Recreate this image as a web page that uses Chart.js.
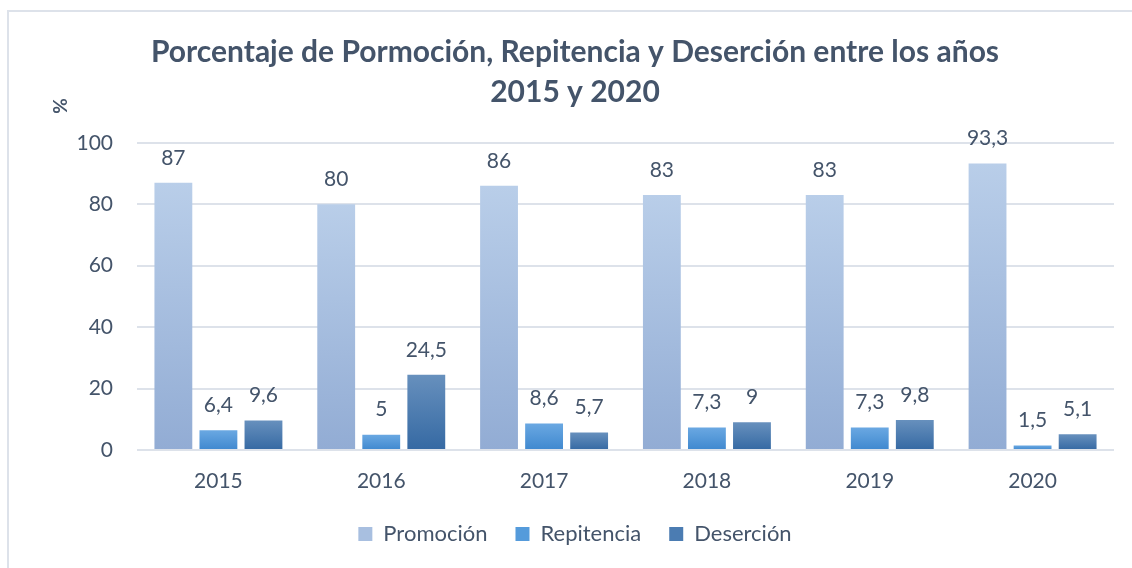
<!DOCTYPE html>
<html>
<head>
<meta charset="utf-8">
<script src="https://cdn.jsdelivr.net/npm/chart.js@4"></script>
<style>
  html, body { margin: 0; padding: 0; background: #ffffff; }
  #wrap { width: 1132px; height: 568px; }
</style>
</head>
<body>
<div id="wrap"><canvas id="chart" width="1132" height="568"></canvas></div>
<script>
const years = [`2015`, `2016`, `2017`, `2018`, `2019`, `2020`];
const promocion = [87, 80, 86, 83, 83, 93.3];
const repitencia = [6.4, 5, 8.6, 7.3, 7.3, 1.5];
const desercion = [9.6, 24.5, 5.7, 9, 9.8, 5.1];
const yTicks = [0, 20, 40, 60, 80, 100];

const TEXT = `#44546a`;
const FONT = `Lato, 'Open Sans', sans-serif`;

// light top -> darker bottom, per bar
const barGradient = (top, bottom) => (ctx) => {
  const chart = ctx.chart;
  if (!chart.chartArea || ctx.type !== `data`) {
    return top;
  }
  const y = chart.scales.y;
  const y0 = y.getPixelForValue(ctx.parsed ? ctx.parsed.y : 0);
  const y1 = y.getPixelForValue(0);
  if (!isFinite(y0) || y1 - y0 < 1) {
    return top;
  }
  const g = chart.ctx.createLinearGradient(0, y0, 0, y1);
  g.addColorStop(0, top);
  g.addColorStop(1, bottom);
  return g;
};

const frame = {
  id: `frame`,
  beforeDraw(chart) {
    const c = chart.ctx;
    c.save();
    c.strokeStyle = `#dde2ea`;
    c.lineWidth = 2;
    c.strokeRect(8, 11, 1200, 700);
    c.restore();
  }
};

const valueLabels = {
  id: `valueLabels`,
  afterDatasetsDraw(chart) {
    const c = chart.ctx;
    c.save();
    c.fillStyle = TEXT;
    c.font = `21px ${FONT}`;
    c.textAlign = `center`;
    c.textBaseline = `middle`;
    chart.data.datasets.forEach((ds, i) => {
      chart.getDatasetMeta(i).data.forEach((bar, j) => {
        const txt = String(ds.data[j]).replace(`.`, `,`);
        c.fillText(txt, bar.x, bar.y - 25);
      });
    });
    // axis unit
    c.translate(61, 106);
    c.rotate(-Math.PI / 2);
    c.font = `bold 19px ${FONT}`;
    c.fillText(`%`, 0, 0);
    c.restore();
  }
};

new Chart(document.getElementById(`chart`), {
  type: `bar`,
  plugins: [frame, valueLabels],
  data: {
    labels: years,
    datasets: [
      {
        label: `Promoción`,
        data: promocion,
        backgroundColor: barGradient(`#b9cee9`, `#92acd4`),
      },
      {
        label: `Repitencia`,
        data: repitencia,
        backgroundColor: barGradient(`#6aa8e2`, `#3f88cf`),
      },
      {
        label: `Deserción`,
        data: desercion,
        backgroundColor: barGradient(`#6790bd`, `#3569a3`),
      },
    ]
  },
  options: {
    responsive: false,
    animation: false,
    layout: {
      padding: {left: 36, right: 18, top: 0, bottom: 13}
    },
    datasets: {
      bar: {
        categoryPercentage: 0.83,
        barPercentage: 0.84,
      }
    },
    plugins: {
      title: {
        display: true,
        text: [`Porcentaje de Pormoción, Repitencia y Deserción entre los años`, `2015 y 2020`],
        color: TEXT,
        font: {family: FONT, size: 30, weight: `bold`, lineHeight: 1.33},
        padding: {top: 32, bottom: 31},
      },
      legend: {
        position: `bottom`,
        labels: {
          color: TEXT,
          font: {family: FONT, size: 22},
          boxWidth: 14,
          boxHeight: 14,
          padding: 28,
          generateLabels: () => [
            {text: `Promoción`, fillStyle: `#a8bfe0`, strokeStyle: `#a8bfe0`, lineWidth: 0, fontColor: TEXT},
            {text: `Repitencia`, fillStyle: `#559bdb`, strokeStyle: `#559bdb`, lineWidth: 0, fontColor: TEXT},
            {text: `Deserción`, fillStyle: `#4b7cb2`, strokeStyle: `#4b7cb2`, lineWidth: 0, fontColor: TEXT},
          ],
        },
      },
      tooltip: {enabled: false},
    },
    scales: {
      x: {
        grid: {display: false},
        border: {display: false},
        ticks: {color: TEXT, font: {family: FONT, size: 21}, padding: 11},
        afterFit: (scale) => {
          scale.height = 45;
        },
      },
      y: {
        min: 0,
        max: 100,
        afterBuildTicks: (scale) => {
          scale.ticks = yTicks.map((v) => ({value: v}));
        },
        grid: {color: `#dde2ea`, lineWidth: 2, drawTicks: false},
        border: {display: false},
        ticks: {color: TEXT, font: {family: FONT, size: 21}, padding: 24},
        afterFit: (scale) => {
          scale.width = 101;
        },
      },
    }
  }
});
</script>
</body>
</html>
